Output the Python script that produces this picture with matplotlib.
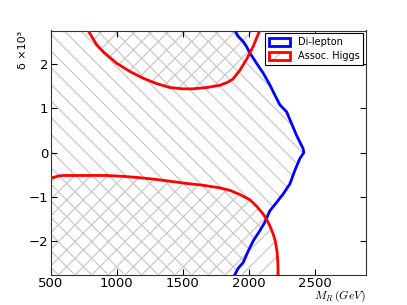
import numpy as np
import matplotlib
matplotlib.use("Agg")
import matplotlib.pyplot as plt
from matplotlib.patches import Patch

plt.rcParams['mathtext.fontset'] = 'cm'
plt.rcParams['hatch.linewidth'] = 0.8

# di-lepton exclusion boundary (M_R in GeV, delta x 10^3)
dilep_x = [1894, 1919, 1957, 1982, 2008, 2058, 2108, 2159, 2197, 2235, 2286, 2323,
           2361, 2386, 2411, 2417, 2386, 2348, 2311, 2260, 2210, 2159, 2121, 2083,
           2033, 1995, 1957, 1919, 1894]
dilep_y = [2.76, 2.63, 2.51, 2.40, 2.25, 2.02, 1.80, 1.53, 1.30, 1.08, 0.92, 0.66,
           0.39, 0.24, 0.09, 0.0, -0.14, -0.41, -0.71, -0.94, -1.13, -1.32, -1.58, -1.77,
           -2.0, -2.23, -2.49, -2.62, -2.76]

# associated Higgs boundary, upper branch
higgs_up_x = [782, 820, 846, 900, 998, 1100, 1199, 1300, 1402, 1500, 1576, 1680,
              1780, 1840, 1879, 1932, 1983, 2033, 2060, 2083]
higgs_up_y = [2.76, 2.57, 2.44, 2.27, 2.02, 1.83, 1.68, 1.56, 1.47, 1.44, 1.44, 1.47,
              1.52, 1.59, 1.66, 1.86, 2.11, 2.40, 2.60, 2.76]

# associated Higgs boundary, lower branch
higgs_lo_x = [500, 560, 593, 700, 922, 1050, 1174, 1300, 1377, 1528, 1650, 1780,
              1860, 1932, 2008, 2060, 2108, 2140, 2165, 2185, 2200, 2214, 2220, 2222]
higgs_lo_y = [-0.58, -0.53, -0.52, -0.52, -0.52, -0.54, -0.57, -0.61, -0.64, -0.70,
              -0.74, -0.80, -0.86, -0.95, -1.07, -1.22, -1.39, -1.54, -1.70, -1.85,
              -2.0, -2.25, -2.5, -2.76]

xmin, xmax = 500, 2890
ymin, ymax = -2.76, 2.76

fig = plt.figure(figsize=(4.07, 3.05), dpi=100)
ax = fig.add_axes([0.125, 0.1, 0.775, 0.8])

hatch_col = '#c4c4c4'
# di-lepton excluded region (left of blue curve)
ax.fill_betweenx(dilep_y, xmin, dilep_x, facecolor='none', edgecolor=hatch_col,
                 hatch='\\\\', linewidth=0, zorder=1)
# assoc. higgs excluded regions
ax.fill_between(higgs_up_x, higgs_up_y, ymax, facecolor='none', edgecolor=hatch_col,
                hatch='//', linewidth=0, zorder=1)
ax.fill(higgs_lo_x + [higgs_lo_x[-1], xmin], higgs_lo_y + [ymin, ymin],
        facecolor='none', edgecolor=hatch_col, hatch='//', linewidth=0, zorder=1)

ax.plot(dilep_x, dilep_y, color='blue', lw=2, zorder=3)
ax.plot(higgs_up_x, higgs_up_y, color='red', lw=2, zorder=3)
ax.plot(higgs_lo_x, higgs_lo_y, color='red', lw=2, zorder=3)

ax.set_xlim(xmin, xmax)
ax.set_ylim(ymin, ymax)
ax.set_xticks([500, 1000, 1500, 2000, 2500])
ax.set_yticks([-2, -1, 0, 1, 2])
ax.tick_params(direction='in', top=True, right=True, labelsize=9.5, length=4,
               width=0.8, pad=2)
for sp in ax.spines.values():
    sp.set_color('#333333')

ax.set_xlabel(r'$M_R\,(GeV)$', loc='right', fontsize=8.5)
ax.xaxis.set_label_coords(1.0, -0.058)
ax.set_ylabel('δ ×10³', loc='top', fontsize=8)
ax.yaxis.set_label_coords(-0.073, 1.0)

h1 = Patch(facecolor='white', edgecolor='blue', lw=2)
h2 = (Patch(facecolor='white', edgecolor='#ffb0b0', hatch='//', lw=0),
      Patch(facecolor='none', edgecolor='red', lw=2))
leg = ax.legend([h1, h2], ['Di-lepton', 'Assoc. Higgs'], loc='upper right',
                fontsize=7, fancybox=False, framealpha=1, edgecolor='black',
                borderaxespad=0.3, handlelength=2.2, handleheight=0.8,
                borderpad=0.4, labelspacing=0.4)
leg.get_frame().set_linewidth(0.8)
leg.set_zorder(5)

fig.savefig('out.png', dpi=100)
